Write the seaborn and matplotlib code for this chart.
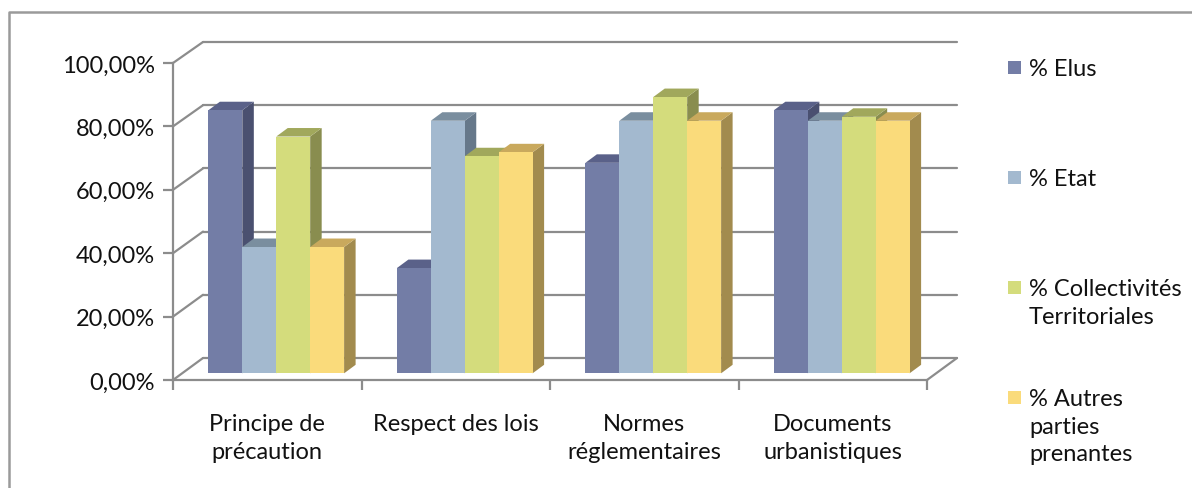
import matplotlib
matplotlib.use("Agg")
import matplotlib.pyplot as plt
from matplotlib.patches import Polygon, Rectangle
from matplotlib.lines import Line2D
from matplotlib.ticker import FuncFormatter, FixedLocator
import seaborn as sns
import pandas as pd

# ---- data -------------------------------------------------------------
categories = ["Principe de\nprécaution", "Respect des lois",
              "Normes\nréglementaires", "Documents\nurbanistiques"]
series = ["% Elus", "% Etat", "% Collectivités\nTerritoriales",
          "% Autres\nparties\nprenantes"]
elus = [83.33, 33.33, 66.67, 83.33]
etat = [40.0, 80.0, 80.0, 80.0]
collectivites = [75.0, 68.75, 87.5, 81.25]
autres = [40.0, 70.0, 80.0, 80.0]
y_ticks = [0, 20, 40, 60, 80, 100]

# ---- style ------------------------------------------------------------
front_colors = ["#737da6", "#a3b9cf", "#d4dc7c", "#fadb7b"]
top_colors = ["#5a6189", "#7a8e9f", "#a1a85c", "#c9a95d"]
side_colors = ["#4a5070", "#66788a", "#898d4f", "#a28b4e"]
grid_color = "#8c8c8c"
text_color = "#111111"

sns.set_theme(style="white")
plt.rcParams["font.family"] = ["Lato", "DejaVu Sans"]
FS = 17
LS = 1.38

W, H = 1192, 489
fig = plt.figure(figsize=(W / 100, H / 100), dpi=100)


def rect(left, right, top, bottom):
    return [left / W, 1 - bottom / H, (right - left) / W, (bottom - top) / H]


# three planes of the pseudo-3D box: back wall, bar plane, front axis
ax_back = fig.add_axes(rect(203, 957, 43, 359))
ax_front = fig.add_axes(rect(173, 927, 64, 381))
ax_bar = fig.add_axes(rect(182, 936, 58.6, 374.3))
for a in (ax_back, ax_front, ax_bar):
    a.set_xlim(-0.5, 3.5)
    a.set_ylim(0, 100)
    a.patch.set_alpha(0)

# back wall gridlines
ax_back.set_axis_off()
for v in y_ticks:
    ax_back.axhline(v, color=grid_color, lw=1.6, clip_on=False)

# bars
df = pd.DataFrame({
    "category": categories * 4,
    "series": [s for s in series for _ in categories],
    "value": elus + etat + collectivites + autres,
})
sns.barplot(data=df, x="category", y="value", hue="series",
            order=categories, hue_order=series, palette=front_colors,
            saturation=1, width=0.72, errorbar=None, linewidth=0,
            legend=False, ax=ax_bar, zorder=3)
ax_bar.set_xlim(-0.5, 3.5)
ax_bar.set_ylim(0, 100)
ax_bar.set_axis_off()

# depth faces of every bar (offsets given in pixels, converted to data units)
px_x = (936 - 182) / 4.0
px_y = (374.3 - 58.6) / 100.0
ddx, ddy = 11.5 / px_x, 8.5 / px_y
for i, cont in enumerate(ax_bar.containers):
    for r in cont:
        x0, w, h = r.get_x(), r.get_width(), r.get_height()
        x1 = x0 + w
        top = Polygon([(x0, h), (x1, h), (x1 + ddx, h + ddy), (x0 + ddx, h + ddy)],
                      closed=True, facecolor=top_colors[i], edgecolor="none",
                      zorder=2, clip_on=False)
        side = Polygon([(x1, 0), (x1 + ddx, ddy), (x1 + ddx, h + ddy), (x1, h)],
                       closed=True, facecolor=side_colors[i], edgecolor="none",
                       zorder=2, clip_on=False)
        ax_bar.add_patch(side)
        ax_bar.add_patch(top)

# front axis with tick labels
for s in ("top", "right"):
    ax_front.spines[s].set_visible(False)
for s in ("left", "bottom"):
    ax_front.spines[s].set_color(grid_color)
    ax_front.spines[s].set_linewidth(1.6)
ax_front.yaxis.set_major_locator(FixedLocator(y_ticks))
ax_front.yaxis.set_major_formatter(
    FuncFormatter(lambda v, _: f"{v:.2f}%".replace(".", ",")))
ax_front.tick_params(axis="y", direction="out", length=7, width=1.6,
                     color=grid_color, pad=6, labelsize=FS, left=True,
                     labelcolor=text_color)
ax_front.set_xticks(range(len(categories)))
ax_front.set_xticklabels(categories, fontsize=FS, color=text_color,
                         linespacing=LS)
ax_front.set_xticks([k - 0.5 for k in range(len(categories) + 1)], minor=True)
ax_front.tick_params(axis="x", which="major", length=0, pad=24)
ax_front.tick_params(axis="x", which="minor", direction="out", length=7,
                     width=1.6, color=grid_color, bottom=True)
ax_front.set_xlabel("")
ax_front.set_ylabel("")

# side-wall diagonals joining the front axis to the back wall
to_fig = fig.transFigure.inverted()


def link(p_front, p_back):
    a = to_fig.transform(ax_front.transData.transform(p_front))
    b = to_fig.transform(ax_back.transData.transform(p_back))
    fig.add_artist(Line2D([a[0], b[0]], [a[1], b[1]], color=grid_color,
                          lw=1.6, transform=fig.transFigure))


for v in y_ticks:
    link((-0.5, v), (-0.5, v))
link((3.5, 0), (3.5, 0))

# legend
for i, lab in enumerate(series):
    yc = 68.5 + 110 * i
    fig.add_artist(Rectangle((1008 / W, 1 - (yc + 6.5) / H), 13 / W, 13 / H,
                             facecolor=front_colors[i], edgecolor="none",
                             transform=fig.transFigure))
    fig.text(1029 / W, 1 - (yc - 9) / H, lab, fontsize=FS, color=text_color,
             ha="left", va="top", linespacing=LS)

# outer frame
fig.add_artist(Line2D([9 / W, 9 / W, 1.0], [0.0, 1 - 13 / H, 1 - 13 / H],
                      color="#9a9a9a", lw=1.8, transform=fig.transFigure))

fig.savefig("out.png", dpi=100)
